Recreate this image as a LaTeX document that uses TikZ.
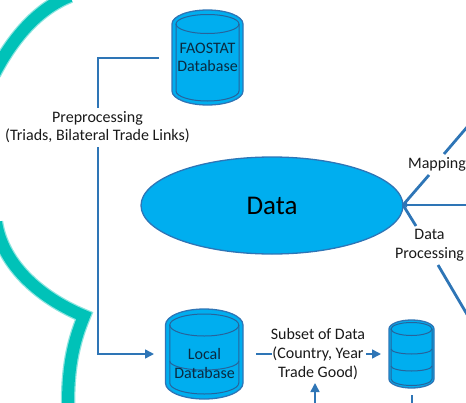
\documentclass[tikz,border=0pt]{standalone}
\usepackage{fontspec}
\setmainfont{Carlito}
\usetikzlibrary{arrows.meta,shapes.geometric}
\definecolor{linkblue}{HTML}{2E75B6}
\definecolor{fillblue}{HTML}{00AEEF}
\definecolor{teal1}{HTML}{00C2B8}
\definecolor{dbtext}{HTML}{0A2A40}
\tikzset{
  link/.style={draw=linkblue,line width=1.6pt},
  thick link/.style={draw=linkblue,line width=2.8pt},
  tip/.style={-{Triangle[length=9pt,width=9pt]}},
  lbl/.style={text=black!90,font=\fontsize{16}{18.6}\selectfont,align=center,inner sep=0pt},
  dblbl/.style={text=dbtext,font=\fontsize{16}{18.6}\selectfont,align=center,inner sep=0pt},
  outer/.style={draw=linkblue,line width=1.3pt,fill=fillblue},
  innerl/.style={draw=linkblue!85!black,line width=1pt},
  swoosh/.style={draw=teal1,line width=12pt,line join=miter,line cap=butt},
  swooshsoft/.style={draw=teal1!45,line width=14.5pt,line join=miter,line cap=butt},
}
\newcommand{\swooshpath}{
  (70,-4) .. controls (45,6) and (18,28) .. (-6,74)
  (-4,222) .. controls (2,262) and (36,296) .. (84,316)
  .. controls (72,345) and (68,370) .. (68,406)
}
\begin{document}
\begin{tikzpicture}[x=1pt,y=-1pt]
\useasboundingbox (0,0) rectangle (466,402);
\clip (0,0) rectangle (466,402);
\draw[swooshsoft] \swooshpath;
\draw[swoosh] \swooshpath;

% FAOSTAT cylinder
\path[outer] (172,24) arc[start angle=180,end angle=360,x radius=35.5,y radius=14]
  -- (243,91) arc[start angle=0,end angle=180,x radius=35.5,y radius=14] -- cycle;
\draw[innerl] (207.5,24) ellipse[x radius=31.5,y radius=9.5];
\draw[innerl] (176,24) -- (176,91) arc[start angle=180,end angle=0,x radius=31.5,y radius=10] -- (239,24);
\node[dblbl] (fao) at (207.5,57.5) {FAOSTAT\\Database};

% Local cylinder
\path[outer] (165.5,325) arc[start angle=180,end angle=360,x radius=38.75,y radius=16]
  -- (243,383) arc[start angle=0,end angle=180,x radius=38.75,y radius=16] -- cycle;
\draw[innerl] (204.25,325) ellipse[x radius=34.5,y radius=11];
\draw[innerl] (169.75,325) -- (169.75,383) arc[start angle=180,end angle=0,x radius=34.5,y radius=11] -- (238.75,325);
\draw[innerl] (169.75,361) arc[start angle=180,end angle=0,x radius=34.5,y radius=9];
\node[dblbl] (local) at (204.5,363.5) {Local\\Database};

% Third cylinder
\path[outer] (389,329) arc[start angle=180,end angle=360,x radius=22.5,y radius=9]
  -- (434,379) arc[start angle=0,end angle=180,x radius=22.5,y radius=9] -- cycle;
\draw[innerl] (411.5,329) ellipse[x radius=20.5,y radius=6.5];
\draw[innerl] (391,329) -- (391,379) arc[start angle=180,end angle=0,x radius=20.5,y radius=6.5] -- (432,329);
\draw[innerl] (391,349) arc[start angle=180,end angle=0,x radius=20.5,y radius=5];
\draw[innerl] (391,366) arc[start angle=180,end angle=0,x radius=20.5,y radius=5];
\coordinate (subdb) at (381,354);

% Data ellipse
\node[outer,ellipse,minimum width=262pt,minimum height=97pt,inner sep=0pt,font=\fontsize{27}{30}\selectfont,text=black] (data) at (272,205.5) {Data};
\coordinate (hub) at (403,205);

% Labels
\node[lbl] (pre) at (97.5,127) {Preprocessing\\(Triads, Bilateral Trade Links)};
\node[lbl] (subset) at (318,354) {Subset of Data\\(Country, Year\\Trade Good)};
\node[lbl] (map) at (437,164) {Mapping};
\node[lbl] (proc) at (429.5,245) {Data\\Processing};

% Free ends
\coordinate (faoend) at (159,58);
\coordinate (preA) at (98,108);
\coordinate (preB) at (98,147);
\coordinate (localin) at (154,354);
\coordinate (localout) at (256,354);
\coordinate (subL) at (272,354);
\coordinate (subR) at (366,354);
\coordinate (mapA) at (429,175);
\coordinate (mapB) at (444,154);
\coordinate (mapC) at (468,126);
\coordinate (procA) at (416,226);
\coordinate (procB) at (438,265);
\coordinate (procC) at (468,316);
\coordinate (eastE) at (468,205);
\coordinate (upS) at (315,404);
\coordinate (upE) at (315,383);
\coordinate (stubS) at (412,395);
\coordinate (stubE) at (412,404);

% Connectors
\draw[link] (faoend) -| (preA);
\draw[link,tip] (preB) |- (localin);
\draw[link] (localout) -- (subL);
\draw[link,tip] (subR) -- (subdb);
\draw[link,tip] (upS) -- (upE);
\draw[link] (stubS) -- (stubE);
\draw[link,-{Triangle[length=4pt,width=5pt]}] (eastE) -- (hub);
\draw[thick link] (hub) -- (mapA);
\draw[thick link] (mapB) -- (mapC);
\draw[thick link] (hub) -- (procA);
\draw[thick link] (procB) -- (procC);
\end{tikzpicture}
\end{document}
